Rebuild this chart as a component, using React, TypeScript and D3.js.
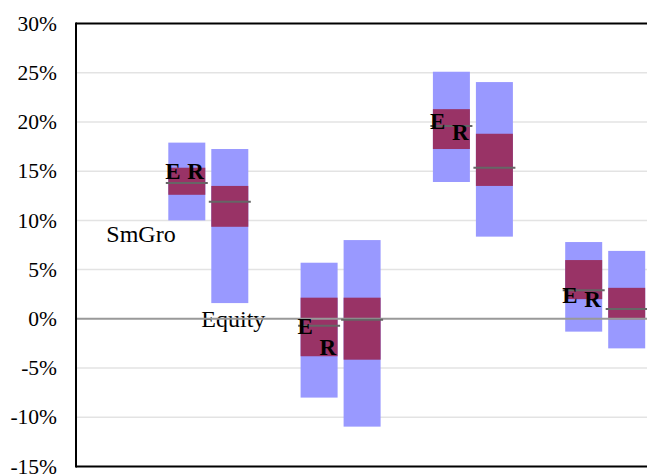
import React from "react";
import * as d3 from "d3";

const groups = [1, 2, 3, 4];
const yTicks = [-15, -10, -5, 0, 5, 10, 15, 20, 25, 30];

// E series (percent)
const eHigh = [17.9, 5.7, 25.1, 7.8];
const eLow = [10.0, -8.0, 13.9, -1.3];
const eQ3 = [15.35, 2.15, 21.3, 5.97];
const eQ1 = [12.6, -3.8, 17.25, 2.0];
const eMean = [13.8, -0.7, 19.6, 2.9];

// R series (percent)
const rHigh = [17.25, 8.0, 24.05, 6.9];
const rLow = [1.6, -10.95, 8.35, -3.0];
const rQ3 = [13.5, 2.15, 18.8, 3.15];
const rQ1 = [9.35, -4.15, 13.5, -0.05];
const rMean = [11.9, -0.1, 15.35, 1.0];

// label anchor values
const eLabelAt = [15.0, -0.7, 20.1, 2.4];
const rLabelAt = [15.0, -2.9, 19.0, 2.0];

const seriesNames = ["SmGro", "Equity"];

const W = 647;
const H = 475;
const FONT = '"Liberation Serif", "Times New Roman", Times, serif';

export default function App() {
  const left = 76;
  const step = 132.3;
  const x = d3.scaleLinear().domain([0, 4.5]).range([left, left + 4.5 * step]);
  const y = d3.scaleLinear().domain([-15, 30]).range([466.5, 23.5]);
  const barW = 37;
  const gap = 3;

  const series = [
    { high: eHigh, low: eLow, q3: eQ3, q1: eQ1, mean: eMean, off: -gap - barW },
    { high: rHigh, low: rLow, q3: rQ3, q1: rQ1, mean: rMean, off: gap },
  ];
  const ts = { fontFamily: FONT };

  return (
    <svg
      width={W}
      height={H}
      style={{ position: "absolute", left: 0, top: 0, background: "#fff", fontFamily: FONT }}
    >
      <rect x={0} y={0} width={W} height={H} fill="#fff" />
      {yTicks
        .filter((t) => t !== 0 && t !== 30 && t !== -15)
        .map((t) => (
          <line key={t} x1={left} x2={W} y1={y(t)} y2={y(t)} stroke="#e3e3e3" strokeWidth={1.5} />
        ))}
      {yTicks.map((t) => (
        <text key={t} x={57} y={y(t) + 7.2} textAnchor="end" fontSize={21.5} fill="#000" style={ts}>
          {`${t}%`}
        </text>
      ))}
      {series.map((s, si) =>
        groups.map((g, i) => {
          const bx = x(g) + s.off;
          return (
            <g key={`${si}-${i}`}>
              <rect x={bx} y={y(s.high[i])} width={barW} height={y(s.low[i]) - y(s.high[i])} fill="#9999FF" />
              <rect x={bx} y={y(s.q3[i])} width={barW} height={y(s.q1[i]) - y(s.q3[i])} fill="#993366" />
            </g>
          );
        })
      )}
      <text x={x(groups[0]) - 102} y={y(eLow[0]) + 22} fontSize={24} fill="#000" style={ts}>
        {seriesNames[0]}
      </text>
      <text x={x(groups[0]) - 7} y={y(rLow[0]) + 23.5} fontSize={24} fill="#000" style={ts}>
        {seriesNames[1]}
      </text>
      <line x1={left} x2={W} y1={y(0)} y2={y(0)} stroke="#999" strokeWidth={2} />
      {series.map((s, si) =>
        groups.map((g, i) => {
          const bx = x(g) + s.off;
          return (
            <line
              key={`m${si}-${i}`}
              x1={bx - 2.5}
              x2={bx + barW + 2.5}
              y1={y(s.mean[i])}
              y2={y(s.mean[i])}
              stroke="#666"
              strokeWidth={2}
            />
          );
        })
      )}
      {groups.map((g, i) => (
        <g key={`lab${i}`}>
          <text x={x(g) - 43} y={y(eLabelAt[i]) + 8} fontSize={23} fontWeight="bold" fill="#000" style={ts}>
            E
          </text>
          <text x={x(g) - 21} y={y(rLabelAt[i]) + 8} fontSize={23} fontWeight="bold" fill="#000" style={ts}>
            R
          </text>
        </g>
      ))}
      <line x1={left} x2={W} y1={y(30)} y2={y(30)} stroke="#000" strokeWidth={2} />
      <line x1={left} x2={W} y1={y(-15)} y2={y(-15)} stroke="#000" strokeWidth={2} />
      <line x1={left} x2={left} y1={y(30) - 1} y2={y(-15) + 1} stroke="#000" strokeWidth={2} />
    </svg>
  );
}
